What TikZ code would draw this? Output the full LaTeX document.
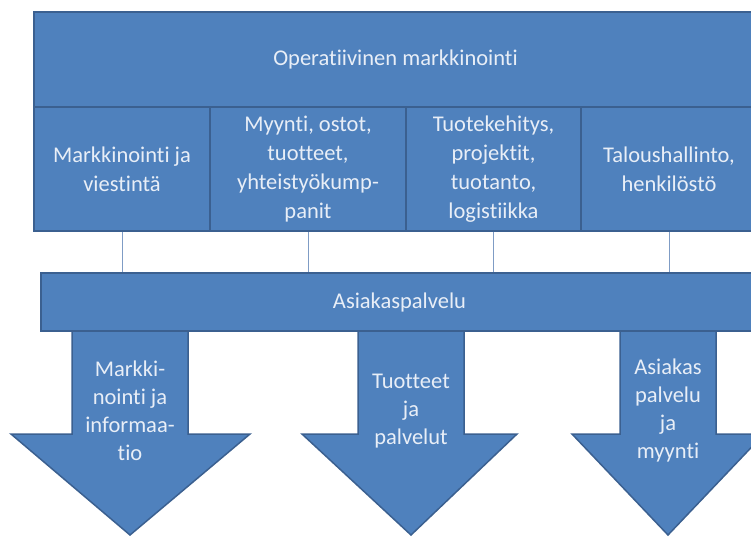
\documentclass[tikz,border=0pt]{standalone}
\usepackage{fontspec}
\setmainfont{Carlito}[Ligatures=NoCommon]
\usetikzlibrary{calc}
\definecolor{boxblue}{HTML}{4F81BD}
\definecolor{boxedge}{HTML}{3B6090}
\definecolor{boxtext}{HTML}{E8EEF7}
\definecolor{linkline}{HTML}{7F9CC5}

\begin{document}
\begin{tikzpicture}[x=1pt, y=-1pt,
    blockbox/.style={rectangle, draw=boxedge, fill=boxblue, line width=1.5pt, inner sep=0pt,
      text=boxtext, align=center, font=\fontsize{22.5}{29}\selectfont},
    arrowbody/.style={draw=boxedge, fill=boxblue, line width=1.5pt, line join=miter},
    arrowtext/.style={text=boxtext, align=center, font=\fontsize{22.5}{28}\selectfont},
    link/.style={draw=linkline, line width=1pt}]
  \useasboundingbox (0,0) rectangle (751,536);

  % arrows below the service bar
  \filldraw[arrowbody] (72,330) -- (188,330) -- (188,434) -- (250,434) -- (130,535) -- (11,434) -- (72,434) -- cycle;
  \filldraw[arrowbody] (358,330) -- (464,330) -- (464,434) -- (517,434) -- (411,535) -- (302,434) -- (358,434) -- cycle;
  \filldraw[arrowbody] (620,330) -- (716,330) -- (716,434) -- (764,434) -- (668,535) -- (572,434) -- (620,434) -- cycle;
  \node[arrowtext] (info) at (130,411) {Markki-\\nointi ja\\informaa-\\tio};
  \node[arrowtext] (prod) at (411,411) {Tuotteet\\ja\\palvelut};
  \node[arrowtext] (sales) at (668,410) {Asiakas\\palvelu\\ja\\myynti};

  % service bar
  \node[blockbox, minimum width=717pt, minimum height=58pt] (service) at (399.5,302) {Asiakaspalvelu};

  % operative marketing block
  \node[blockbox, minimum width=723pt, minimum height=95pt] (oper) at (395.5,59.5) {Operatiivinen markkinointi};
  \node[blockbox, minimum width=176pt, minimum height=124pt] (mark) at (122,169) {Markkinointi ja\\viestintä};
  \node[blockbox, minimum width=196pt, minimum height=124pt] (buy) at (308,169) {Myynti, ostot,\\tuotteet,\\yhteistyökump-\\panit};
  \node[blockbox, minimum width=175pt, minimum height=124pt] (dev) at (493.5,169) {Tuotekehitys,\\projektit,\\tuotanto,\\logistiikka};
  \node[blockbox, minimum width=176pt, minimum height=124pt] (fin) at (669,169) {Taloushallinto,\\henkilöstö};

  % links to the service bar
  \draw[link] (mark.south) -- (mark.south |- service.north);
  \draw[link] (buy.south) -- (buy.south |- service.north);
  \draw[link] (dev.south) -- (dev.south |- service.north);
  \draw[link] (fin.south) -- (fin.south |- service.north);
\end{tikzpicture}
\end{document}
